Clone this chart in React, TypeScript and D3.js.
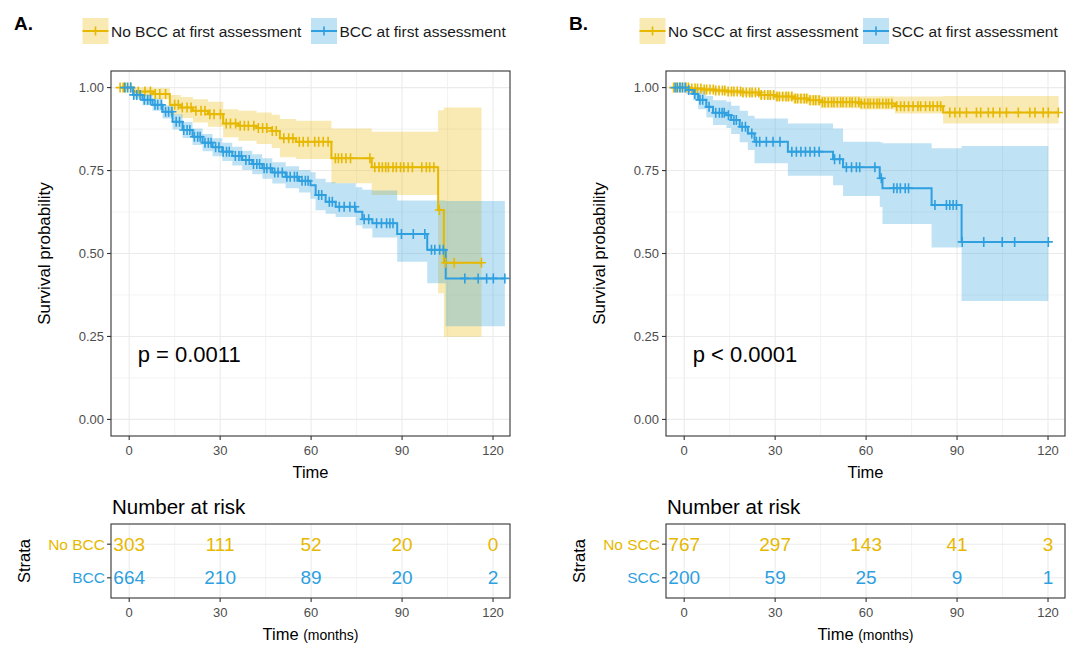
import React from "react";
import * as d3 from "d3";

const GOLD = "#E7B800";
const BLUE = "#2E9FDF";
const FONT = "'Liberation Sans', Arial, Helvetica, sans-serif";

const timeTicks = [0, 30, 60, 90, 120];
const timeMinor = [15, 45, 75, 105];
const survTicks = [0, 0.25, 0.5, 0.75, 1];
const survMinor = [0.125, 0.375, 0.625, 0.875];

// Panel A, no BCC at first assessment
const aNoTimes = [-3, 1.3, 8, 13.4, 17, 21, 26, 31, 36, 42, 47, 49.7, 55, 66.7, 80, 101.9, 103.8];
const aNoSurv = [1, 0.988, 0.981, 0.948, 0.94, 0.93, 0.92, 0.892, 0.885, 0.878, 0.869, 0.847, 0.837, 0.787, 0.76, 0.631, 0.472];
const aNoUpper = [1, 1, 0.998, 0.978, 0.972, 0.965, 0.957, 0.935, 0.93, 0.925, 0.918, 0.905, 0.9, 0.877, 0.867, 0.932, 0.94];
const aNoLower = [1, 0.974, 0.965, 0.918, 0.908, 0.895, 0.882, 0.85, 0.84, 0.83, 0.818, 0.79, 0.785, 0.712, 0.676, 0.38, 0.249];
const aNoEnd = 116.2;
const aNoCensor = [-3, -2, -1.2, 0.5, 3, 5.2, 7, 8.6, 10.1, 12, 15, 16.2, 17.5, 19.1, 20.4, 22, 23.7, 25, 26.6, 28, 30.1, 32, 33.4, 35.1, 36.6, 38, 39.3, 41.1, 42.6, 44, 45.4, 47.2, 48.5, 51, 52.6, 54, 56.1, 57.4, 59, 61.2, 62.5, 64, 65.6, 68, 69, 70.1, 71.5, 73, 79.4, 81, 82.4, 83.5, 84.6, 85.5, 87, 88.1, 89.5, 90.6, 92, 93.4, 96.5, 98, 99.1, 100.5, 102.3, 104.4, 107.2, 116.2];

// Panel A, BCC at first assessment
const aYesTimes = [-1.5, 1.3, 4.4, 7.7, 11, 14.3, 17.6, 20.9, 24.2, 27.5, 30.7, 34, 37.3, 40.6, 43.9, 47.2, 51.6, 56, 59.8, 61.5, 64.8, 68.1, 74.7, 76.9, 80.2, 88.4, 98.3, 104.4];
const aYesSurv = [1, 0.978, 0.963, 0.948, 0.927, 0.897, 0.872, 0.852, 0.834, 0.82, 0.807, 0.794, 0.782, 0.77, 0.757, 0.744, 0.731, 0.719, 0.706, 0.676, 0.656, 0.641, 0.626, 0.603, 0.591, 0.559, 0.511, 0.425];
const aYesUpper = [1, 0.99, 0.979, 0.966, 0.947, 0.92, 0.896, 0.877, 0.86, 0.847, 0.834, 0.822, 0.81, 0.799, 0.787, 0.775, 0.763, 0.752, 0.745, 0.725, 0.715, 0.712, 0.7, 0.692, 0.69, 0.66, 0.66, 0.658];
const aYesLower = [1, 0.966, 0.947, 0.93, 0.907, 0.874, 0.848, 0.827, 0.808, 0.793, 0.779, 0.765, 0.752, 0.739, 0.725, 0.711, 0.697, 0.684, 0.665, 0.63, 0.62, 0.61, 0.585, 0.575, 0.548, 0.475, 0.41, 0.281];
const aYesEnd = 123.9;
const aYesCensor = [-1.5, -0.5, 0.5, 1.5, 2.5, 3.6, 5, 6.1, 7, 8.5, 9.4, 10.6, 12, 13, 14.1, 15.5, 16.6, 18, 19.1, 20, 21.5, 22.6, 23.4, 25, 26.1, 27, 28.5, 29.6, 31, 32.1, 33, 35, 36.2, 37, 38.5, 39.6, 41, 42.1, 43, 44.5, 45.4, 46.6, 48, 49.1, 50.5, 52, 53.1, 54.5, 55.4, 57, 58.1, 59, 62.5, 63.5, 66, 67, 69.3, 70.9, 72.8, 74.4, 77.5, 79, 81.6, 83.2, 84.9, 86, 87, 89.8, 93.7, 97.5, 99.7, 100.8, 102.4, 103.6, 110.7, 115.1, 117.9, 120.1, 123.9];

// Panel B, no SCC at first assessment
const bNoTimes = [-3.5, 2, 6, 10, 14, 19, 25, 30, 36, 41, 45, 58, 69.5, 85.4];
const bNoSurv = [1, 0.997, 0.994, 0.991, 0.988, 0.985, 0.978, 0.973, 0.967, 0.962, 0.956, 0.952, 0.944, 0.925];
const bNoUpper = [1, 1, 1, 0.998, 0.996, 0.994, 0.989, 0.985, 0.981, 0.978, 0.975, 0.974, 0.973, 0.975];
const bNoLower = [1, 0.99, 0.987, 0.983, 0.979, 0.975, 0.966, 0.96, 0.952, 0.946, 0.938, 0.934, 0.922, 0.892];
const bNoEnd = 123.5;
const bNoCensor = [-3.5, -2.6, -1.4, -0.5, 0.6, 1.4, 2.5, 3.6, 4.4, 5.5, 6.6, 7.4, 8.5, 9.6, 10.4, 11.5, 12.6, 13.4, 14.5, 15.6, 16.4, 17.5, 18.6, 19.4, 20.5, 21.6, 22.4, 23.5, 24.6, 25.4, 26.5, 27.6, 28.4, 29.5, 30.6, 31.4, 32.5, 33.6, 34.4, 35.5, 36.6, 37.4, 38.5, 39.6, 40.4, 41.5, 42.6, 43.4, 44.5, 45.6, 46.4, 47.5, 48.6, 49.4, 50.5, 51.6, 52.4, 53.5, 54.6, 55.4, 56.5, 57.6, 58.4, 59.5, 60.6, 61.4, 62.5, 63.6, 64.4, 65.5, 66.6, 67.4, 68.5, 70.1, 71.4, 72.6, 74, 75.5, 77.1, 78, 79.6, 81, 82.1, 83.5, 84.6, 87.6, 89.3, 90.9, 93.1, 96.4, 97.8, 100.3, 101.9, 104.1, 106.3, 110.2, 114, 115.7, 118.4, 120.1, 123.4];

// Panel B, SCC at first assessment
const bYesTimes = [-3, 0.7, 2.9, 4.6, 7.3, 9.5, 13.9, 15.5, 18.3, 21, 23.2, 34.2, 49.1, 52.4, 64.5, 65.4, 81.6, 91.5];
const bYesSurv = [1, 0.993, 0.981, 0.963, 0.942, 0.924, 0.917, 0.902, 0.882, 0.862, 0.837, 0.807, 0.784, 0.76, 0.727, 0.697, 0.646, 0.535];
const bYesUpper = [1, 1, 1, 0.99, 0.975, 0.962, 0.957, 0.945, 0.93, 0.915, 0.907, 0.892, 0.877, 0.837, 0.835, 0.832, 0.817, 0.824];
const bYesLower = [1, 0.98, 0.962, 0.935, 0.91, 0.887, 0.878, 0.86, 0.835, 0.812, 0.772, 0.734, 0.706, 0.673, 0.64, 0.589, 0.518, 0.357];
const bYesEnd = 120.1;
const bYesCensor = [-3, -2.2, -1.4, -0.6, 0.3, 1.5, 3.5, 5.2, 6.1, 8.2, 10.4, 11.6, 12.5, 13.2, 14.6, 16.4, 17.2, 19.1, 20.2, 22.3, 23.8, 24.9, 27.1, 29.3, 31.6, 35.5, 37, 38.5, 40, 41.5, 43, 44.5, 49.6, 51.3, 53.5, 55.2, 56.8, 57.9, 62.9, 65, 69.1, 70.2, 71.3, 72.9, 74, 82.7, 86.5, 87.6, 88.7, 89.8, 91.7, 98.8, 104.9, 109, 120.1];

// numbers at risk
const riskTimes = [0, 30, 60, 90, 120];
const bccNoRisk = [303, 111, 52, 20, 0];
const bccYesRisk = [664, 210, 89, 20, 2];
const sccNoRisk = [767, 297, 143, 41, 3];
const sccYesRisk = [200, 59, 25, 9, 1];

type Curve = {
  color: string;
  times: number[];
  surv: number[];
  upper: number[];
  lower: number[];
  end: number;
  censor: number[];
};

type Row = { label: string; color: string; counts: number[] };

const plusPath = (cx: number, cy: number) =>
  `M${cx - 4.5},${cy}h9M${cx},${cy - 5}v10`;

function Panel({
  ox,
  tag,
  legend,
  curves,
  pText,
  rows,
}: {
  ox: number;
  tag: string;
  legend: { label: string; color: string; x: number }[];
  curves: Curve[];
  pText: string;
  rows: Row[];
}) {
  const x = d3.scaleLinear().domain([-6, 125.6]).range([ox + 111, ox + 510]);
  const y = d3.scaleLinear().domain([-0.05, 1.05]).range([436, 71]);
  const ry = d3
    .scalePoint<string>()
    .domain(rows.map((r) => r.label))
    .range([524, 598])
    .padding(0.6);
  const [x0, x1] = x.range();
  const [yb, yt] = y.range();

  const line = d3
    .line<[number, number]>()
    .x((d) => x(d[0]))
    .y((d) => y(d[1]))
    .curve(d3.curveStepAfter);
  const area = d3
    .area<[number, number, number]>()
    .x((d) => x(d[0]))
    .y0((d) => y(d[1]))
    .y1((d) => y(d[2]))
    .curve(d3.curveStepAfter);

  const gridColor = "#EBEBEB";

  return (
    <g fontFamily={FONT}>
      <text x={ox + 14} y={30} fontSize={19} fontWeight="bold">
        {tag}
      </text>

      {/* legend */}
      {legend.map((l) => (
        <g key={l.label}>
          <rect x={l.x} y={18} width={26} height={26} fill={l.color} fillOpacity={0.3} />
          <line x1={l.x} x2={l.x + 26} y1={31} y2={31} stroke={l.color} strokeWidth={2} />
          <line x1={l.x + 13} x2={l.x + 13} y1={26.5} y2={35.5} stroke={l.color} strokeWidth={1.6} />
          <text x={l.x + 28.5} y={37} fontSize={15.5} fill="#1a1a1a">
            {l.label}
          </text>
        </g>
      ))}

      {/* grid */}
      {timeMinor.map((t) => (
        <line key={"xm" + t} x1={x(t)} x2={x(t)} y1={yt} y2={yb} stroke={gridColor} strokeWidth={0.6} />
      ))}
      {survMinor.map((s) => (
        <line key={"ym" + s} x1={x0} x2={x1} y1={y(s)} y2={y(s)} stroke={gridColor} strokeWidth={0.6} />
      ))}
      {timeTicks.map((t) => (
        <line key={"xg" + t} x1={x(t)} x2={x(t)} y1={yt} y2={yb} stroke={gridColor} strokeWidth={1.1} />
      ))}
      {survTicks.map((s) => (
        <line key={"yg" + s} x1={x0} x2={x1} y1={y(s)} y2={y(s)} stroke={gridColor} strokeWidth={1.1} />
      ))}

      {/* confidence bands */}
      {curves.map((c, i) => {
        const pts: [number, number, number][] = c.times.map((t, k) => [t, c.lower[k], c.upper[k]]);
        pts.push([c.end, c.lower[c.lower.length - 1], c.upper[c.upper.length - 1]]);
        return <path key={"band" + i} d={area(pts) || ""} fill={c.color} fillOpacity={0.3} />;
      })}

      {/* survival curves */}
      {curves.map((c, i) => {
        const pts: [number, number][] = c.times.map((t, k) => [t, c.surv[k]]);
        pts.push([c.end, c.surv[c.surv.length - 1]]);
        return (
          <path key={"line" + i} d={line(pts) || ""} fill="none" stroke={c.color} strokeWidth={2} />
        );
      })}

      {/* censor marks */}
      {curves.map((c, i) => (
        <path
          key={"cens" + i}
          d={c.censor
            .map((t) => {
              const k = Math.max(0, d3.bisectRight(c.times, t) - 1);
              return plusPath(x(t), y(c.surv[k]));
            })
            .join("")}
          fill="none"
          stroke={c.color}
          strokeWidth={1.6}
        />
      ))}

      {/* border and axes */}
      <rect x={x0} y={yt} width={x1 - x0} height={yb - yt} fill="none" stroke="#333" strokeWidth={1.1} />
      {survTicks.map((s) => (
        <g key={"yt" + s}>
          <line x1={x0 - 4} x2={x0} y1={y(s)} y2={y(s)} stroke="#333" strokeWidth={1.1} />
          <text x={x0 - 7} y={y(s)} dy="0.35em" textAnchor="end" fontSize={13} fill="#4D4D4D">
            {s.toFixed(2)}
          </text>
        </g>
      ))}
      {timeTicks.map((t) => (
        <g key={"xt" + t}>
          <line x1={x(t)} x2={x(t)} y1={yb} y2={yb + 4} stroke="#333" strokeWidth={1.1} />
          <text x={x(t)} y={455} textAnchor="middle" fontSize={13} fill="#4D4D4D">
            {t}
          </text>
        </g>
      ))}
      <text x={(x0 + x1) / 2} y={478} textAnchor="middle" fontSize={16.5}>
        Time
      </text>
      <text
        transform={`translate(${ox + 50},${(yt + yb) / 2}) rotate(-90)`}
        textAnchor="middle"
        fontSize={17}
      >
        Survival probability
      </text>
      <text x={x(2.8)} y={y(0.195)} dy="0.35em" fontSize={22}>
        {pText}
      </text>

      {/* risk table */}
      <text x={x0 + 1} y={514} fontSize={20.5}>
        Number at risk
      </text>
      {timeMinor.map((t) => (
        <line key={"rm" + t} x1={x(t)} x2={x(t)} y1={524} y2={598} stroke={gridColor} strokeWidth={0.6} />
      ))}
      {timeTicks.map((t) => (
        <line key={"rg" + t} x1={x(t)} x2={x(t)} y1={524} y2={598} stroke={gridColor} strokeWidth={1.1} />
      ))}
      {rows.map((r) => (
        <line key={"rh" + r.label} x1={x0} x2={x1} y1={ry(r.label)} y2={ry(r.label)} stroke={gridColor} strokeWidth={1.1} />
      ))}
      {rows.map((r) => (
        <g key={"row" + r.label}>
          {r.counts.map((n, k) => (
            <text
              key={k}
              x={x(riskTimes[k])}
              y={ry(r.label)}
              dy="0.35em"
              textAnchor="middle"
              fontSize={19}
              fill={r.color}
            >
              {n}
            </text>
          ))}
          <line x1={x0 - 4} x2={x0} y1={ry(r.label)} y2={ry(r.label)} stroke="#333" strokeWidth={1.1} />
          <text x={x0 - 6} y={ry(r.label)} dy="0.35em" textAnchor="end" fontSize={15.5} fill={r.color}>
            {r.label}
          </text>
        </g>
      ))}
      <rect x={x0} y={524} width={x1 - x0} height={74} fill="none" stroke="#333" strokeWidth={1.1} />
      {timeTicks.map((t) => (
        <g key={"rt" + t}>
          <line x1={x(t)} x2={x(t)} y1={598} y2={602} stroke="#333" strokeWidth={1.1} />
          <text x={x(t)} y={617} textAnchor="middle" fontSize={13} fill="#4D4D4D">
            {t}
          </text>
        </g>
      ))}
      <text x={(x0 + x1) / 2} y={640} textAnchor="middle" fontSize={16.5}>
        Time <tspan fontSize={14}>(months)</tspan>
      </text>
      <text transform={`translate(${ox + 30},561) rotate(-90)`} textAnchor="middle" fontSize={16.5}>
        Strata
      </text>
    </g>
  );
}

export default function App() {
  const panelA: Curve[] = [
    { color: GOLD, times: aNoTimes, surv: aNoSurv, upper: aNoUpper, lower: aNoLower, end: aNoEnd, censor: aNoCensor },
    { color: BLUE, times: aYesTimes, surv: aYesSurv, upper: aYesUpper, lower: aYesLower, end: aYesEnd, censor: aYesCensor },
  ];
  const panelB: Curve[] = [
    { color: GOLD, times: bNoTimes, surv: bNoSurv, upper: bNoUpper, lower: bNoLower, end: bNoEnd, censor: bNoCensor },
    { color: BLUE, times: bYesTimes, surv: bYesSurv, upper: bYesUpper, lower: bYesLower, end: bYesEnd, censor: bYesCensor },
  ];

  return (
    <svg
      width={1079}
      height={646}
      style={{ position: "absolute", left: 0, top: 0, background: "#fff" }}
    >
      <Panel
        ox={0}
        tag="A."
        legend={[
          { label: "No BCC at first assessment", color: GOLD, x: 82.5 },
          { label: "BCC at first assessment", color: BLUE, x: 311 },
        ]}
        curves={panelA}
        pText="p = 0.0011"
        rows={[
          { label: "No BCC", color: GOLD, counts: bccNoRisk },
          { label: "BCC", color: BLUE, counts: bccYesRisk },
        ]}
      />
      <Panel
        ox={555}
        tag="B."
        legend={[
          { label: "No SCC at first assessment", color: GOLD, x: 84.5 + 555 },
          { label: "SCC at first assessment", color: BLUE, x: 308 + 555 },
        ]}
        curves={panelB}
        pText="p < 0.0001"
        rows={[
          { label: "No SCC", color: GOLD, counts: sccNoRisk },
          { label: "SCC", color: BLUE, counts: sccYesRisk },
        ]}
      />
    </svg>
  );
}
